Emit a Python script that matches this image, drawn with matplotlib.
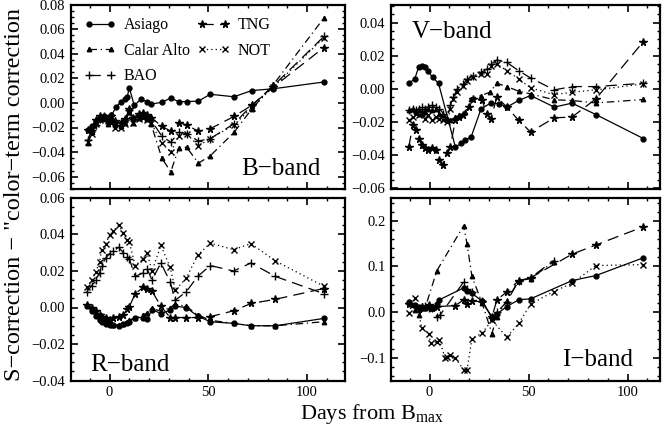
import matplotlib
matplotlib.use("Agg")
import matplotlib.pyplot as plt
from matplotlib.ticker import MultipleLocator, AutoMinorLocator, FuncFormatter

plt.rcParams['font.family'] = ['Liberation Serif', 'DejaVu Serif']
plt.rcParams['mathtext.fontset'] = 'custom'
plt.rcParams['mathtext.rm'] = 'Liberation Serif'

# ---------------- B band ----------------
b_asiago_day = [-11, -9, -7, -5, -3, -1, 1, 3.5, 6, 8, 9, 10, 12.5, 16, 19, 21, 26.5, 31, 35, 39, 45, 51, 63, 72, 83, 108.5]
b_asiago = [-0.022, -0.019, -0.015, -0.012, -0.011, -0.012, -0.010, -0.003, 0.001, 0.003, 0.005, 0.0125, -0.002,
            0.003, 0.001, -0.001, 0.0005, 0.004, 0.001, 0.001, 0.0015, 0.007, 0.005, 0.010, 0.0115, 0.017]
b_day = [-11, -9, -7, -5, -3, -1, 1, 3, 6, 8, 10, 12, 15, 17, 19, 21, 26.5, 31, 35, 39, 45, 51, 63, 72, 83, 108.5]
b_calar = [-0.033, -0.024, -0.016, -0.012, -0.013, -0.017, -0.015, -0.018, -0.019, -0.016, -0.007, -0.016, -0.012,
           -0.011, -0.013, -0.017, -0.045, -0.056, -0.037, -0.036, -0.049, -0.043, -0.024, -0.005, 0.015, 0.069]
b_bao = [-0.030, -0.022, -0.018, -0.013, -0.011, -0.014, -0.013, -0.016, -0.018, -0.014, -0.006, -0.013, -0.010,
         -0.009, -0.011, -0.014, -0.027, -0.032, -0.024, -0.025, -0.031, -0.029, -0.017, -0.002, 0.014, 0.054]
b_tng = [-0.022, -0.020, -0.014, -0.011, -0.012, -0.013, -0.011, -0.015, -0.016, -0.013, -0.005, -0.012, -0.009,
         -0.008, -0.010, -0.012, -0.019, -0.023, -0.016, -0.018, -0.023, -0.021, -0.011, -0.002, 0.013, 0.045]
b_not = [-0.032, -0.025, -0.017, -0.014, -0.013, -0.015, -0.016, -0.020, -0.020, -0.017, -0.008, -0.016, -0.013,
         -0.012, -0.014, -0.016, -0.033, -0.040, -0.027, -0.025, -0.035, -0.029, -0.018, -0.004, 0.013, 0.053]

# ---------------- V band ----------------
v_asiago_day = [-10.5, -7.5, -5.5, -4, -2.5, -1, 1.5, 4.5, 13, 16, 18, 21, 26, 31, 35, 39, 45, 51, 63, 72, 84, 108]
v_asiago = [0.0034, 0.006, 0.0134, 0.014, 0.013, 0.011, 0.007, 0.0034, -0.035, -0.033, -0.031, -0.029, -0.012,
            -0.0085, -0.009, -0.011, -0.007, -0.004, -0.011, -0.0086, -0.0155, -0.030]
v_calar_day = [-10.5, -8.5, -7, -5.5, -4, -2.5, -1, 1, 3, 5, 7, 9, 10.5, 13, 15, 18, 21, 26, 30.5, 34, 39, 45, 51,
               63, 72, 84, 108]
v_calar = [-0.013, -0.012, -0.014, -0.013, -0.015, -0.014, -0.012, -0.013, -0.012, -0.015, -0.016, -0.018, -0.019,
           -0.017, -0.016, -0.014, -0.006, -0.004, -0.002, 0.0034, 0.0014, -0.0014, -0.003, -0.0066, -0.007,
           -0.0085, -0.0064]
v_day = [-10.5, -8.5, -7, -5.5, -4, -2.5, -1, 1, 3, 5, 7, 9, 10.5, 12, 14, 17, 19, 22, 26, 29, 31, 34, 39, 45, 51,
         63, 72, 84, 108]
v_bao = [-0.013, -0.012, -0.013, -0.012, -0.011, -0.012, -0.011, -0.010, -0.011, -0.012, -0.015, -0.018, -0.010,
         -0.005, 0.000, 0.003, 0.006, 0.008, 0.010, 0.012, 0.015, 0.0174, 0.016, 0.011, 0.0066, -0.0006, 0.0014,
         0.0014, 0.0034]
v_not = [-0.019, -0.017, -0.015, -0.016, -0.014, -0.018, -0.016, -0.019, -0.017, -0.018, -0.019, -0.020, -0.012,
         -0.006, -0.002, 0.002, 0.005, 0.007, 0.009, 0.009, 0.014, 0.015, 0.011, 0.006, 0.0006, -0.0035, -0.002,
         -0.0006, 0.003]
v_tng_day = [-10.5, -8.5, -7, -5.5, -4, -2.5, -1, 1, 3, 5, 7, 9, 10.5, 13, 15, 17, 20, 22, 26.5, 29, 31, 34, 39,
             45, 51, 63, 72, 84, 108]
v_tng = [-0.035, -0.022, -0.025, -0.030, -0.034, -0.036, -0.037, -0.036, -0.037, -0.043, -0.046, -0.039, -0.035,
         -0.019, -0.017, -0.016, -0.011, -0.006, -0.007, -0.015, -0.018, -0.005, -0.011, -0.019, -0.026, -0.0175,
         -0.017, -0.006, 0.0286]

# ---------------- R band ----------------
r_day = [-11.5, -9, -7, -5, -4, -2, 0, 2, 4.6, 7, 9, 10, 13, 17, 19, 21.5, 26, 30.7, 33.3, 38.8, 44.6, 51, 62.8,
         71.6, 84, 108.4]
r_asiago = [0.0007, -0.002, -0.0047, -0.007, -0.0078, -0.009, -0.0095, -0.0096, -0.010, -0.009, -0.0085, -0.0078,
            -0.0055, -0.0055, -0.0065, -0.0011, -0.0033, -0.0015, 0.0007, 0.0, -0.0047, -0.0078, -0.0087, -0.010,
            -0.010, -0.006]
r_calar = [0.0013, -0.001, -0.004, -0.006, -0.007, -0.008, -0.009, -0.0095, -0.0098, -0.009, -0.008, -0.007,
           -0.0055, -0.004, -0.003, -0.0005, -0.002, 0.0, 0.0018, 0.0007, -0.004, -0.007, -0.0087, -0.010, -0.010,
           -0.0078]
r_bao = [0.0086, 0.012, 0.015, 0.019, 0.023, 0.027, 0.0295, 0.031, 0.033, 0.030, 0.0275, 0.0267, 0.017, 0.019,
         0.0213, 0.015, 0.0244, 0.014, 0.004, 0.0086, 0.017, 0.023, 0.020, 0.0244, 0.017, 0.0076]
r_tng = [0.0013, 0.0, -0.002, -0.004, -0.005, -0.006, -0.007, -0.006, -0.005, -0.004, -0.001, 0.0004, 0.0076,
         0.011, 0.0104, 0.009, 0.0007, -0.0055, -0.0055, -0.0055, -0.0055, -0.005, -0.0018, 0.0022, 0.0045, 0.0104]
r_not = [0.011, 0.015, 0.0195, 0.025, 0.0317, 0.035, 0.0395, 0.042, 0.045, 0.041, 0.037, 0.036, 0.023, 0.0267,
         0.030, 0.020, 0.034, 0.022, 0.0095, 0.016, 0.0286, 0.0353, 0.0317, 0.035, 0.0255, 0.0117]

# ---------------- I band ----------------
i_asiago_day = [-10.6, -7.2, -5.6, -3.9, -2.2, -0.5, 1.2, 3.7, 5, 17.2, 18.9, 21.4, 26.5, 31.5, 34, 39, 45, 51,
                72, 84, 108]
i_asiago = [0.023, 0.015, 0.011, 0.008, 0.010, 0.011, 0.0095, 0.017, 0.027, 0.053, 0.047, 0.041, 0.024, -0.011,
            -0.004, 0.012, 0.027, 0.029, 0.069, 0.080, 0.119]
i_calar_day = [-10.6, -7.2, -5.6, -2.2, 3.7, 17.2, 18.9, 21.4, 26.5, 31.5, 34, 39, 45, 51, 62.6]
i_calar = [0.02, 0.005, -0.007, 0.01, 0.091, 0.189, 0.149, 0.078, 0.02, -0.047, -0.01, 0.025, 0.069, 0.073, 0.11]
i_bao_day = [-10.6, -7.2, -5.6, -3.9, -2.2, -0.5, 1.2, 3.7, 5.4, 17.2, 18.9, 21.4, 26.5, 31.5, 34, 39, 45, 51, 62.6]
i_bao = [0.02, 0.012, 0.006, 0.012, 0.014, 0.01, 0.008, -0.011, -0.006, 0.066, 0.05, 0.045, 0.025, -0.012, 0.0,
         0.022, 0.069, 0.075, 0.113]
i_tng_day = [-10.6, -5.6, -3.9, -0.5, 1.2, 3.7, 13, 17.2, 18.9, 21.4, 26.5, 31.5, 34, 39, 45, 51, 72, 84, 108]
i_tng = [0.018, 0.006, 0.012, 0.015, 0.01, 0.012, 0.014, 0.027, 0.018, 0.025, 0.022, -0.011, 0.027, 0.044, 0.069,
         0.075, 0.127, 0.147, 0.187]
i_not_day = [-10.6, -7.2, -3.9, -0.5, 0.5, 3.7, 5, 7.8, 9, 10.4, 13, 17.2, 18.9, 21.4, 26.5, 31.5, 39, 45, 51, 62.6,
             72, 84, 108]
i_not = [-0.002, 0.031, -0.035, -0.047, -0.068, -0.065, -0.062, -0.10, -0.098, -0.095, -0.10, -0.127, -0.127,
         -0.058, -0.046, -0.018, -0.055, -0.025, 0.017, 0.045, 0.063, 0.102, 0.104]

names = ['Asiago', 'Calar Alto', 'BAO', 'TNG', 'NOT']
styles = [dict(ls='-', marker='o', ms=3.5),
          dict(ls=(0, (6, 3, 1, 3)), marker='^', ms=3.2),
          dict(ls=(0, (9, 5)), marker='+', ms=6, mew=1.0),
          dict(ls=(0, (9, 5)), marker='*', ms=5.5),
          dict(ls=(0, (1, 2.5)), marker='x', ms=4.5, mew=1.0)]

fig = plt.figure(figsize=(6.64, 4.32), dpi=100)
W, H = 664.0, 432.0
ax_b = fig.add_axes([71 / W, (H - 189) / H, 274 / W, 184.5 / H])
ax_v = fig.add_axes([391 / W, (H - 189) / H, 269 / W, 184.5 / H])
ax_r = fig.add_axes([71 / W, (H - 380.5) / H, 274 / W, 182.5 / H])
ax_i = fig.add_axes([391 / W, (H - 380.5) / H, 269 / W, 182.5 / H])


def fmt(nd):
    def f(v, pos):
        s = f"{v:.{nd}f}"
        if s.startswith('-') and float(s) == 0:
            s = s[1:]
        return s.replace('-', '\u2212')
    return FuncFormatter(f)


panels = [
    (ax_b, [(b_asiago_day, b_asiago), (b_day, b_calar), (b_day, b_bao), (b_day, b_tng), (b_day, b_not)],
     (-0.07, 0.08), 0.02, 2, (-19.5, 119.2)),
    (ax_v, [(v_asiago_day, v_asiago), (v_calar_day, v_calar), (v_day, v_bao), (v_tng_day, v_tng), (v_day, v_not)],
     (-0.0605, 0.051), 0.02, 2, (-19.5, 116.4)),
    (ax_r, [(r_day, r_asiago), (r_day, r_calar), (r_day, r_bao), (r_day, r_tng), (r_day, r_not)],
     (-0.04, 0.06), 0.02, 2, (-19.5, 119.2)),
    (ax_i, [(i_asiago_day, i_asiago), (i_calar_day, i_calar), (i_bao_day, i_bao), (i_tng_day, i_tng),
            (i_not_day, i_not)],
     (-0.15, 0.25), 0.1, 1, (-19.5, 116.4)),
]

for ax, series, ylim, ystep, nd, xlim in panels:
    for (d, v), name, st in zip(series, names, styles):
        ax.plot(d, v, color='black', lw=0.9, label=name, **st)
    ax.set_xlim(*xlim)
    ax.set_ylim(*ylim)
    ax.xaxis.set_major_locator(MultipleLocator(50))
    ax.xaxis.set_minor_locator(MultipleLocator(10))
    ax.yaxis.set_major_locator(MultipleLocator(ystep))
    ax.yaxis.set_minor_locator(AutoMinorLocator(5 if nd == 1 else 4))
    ax.yaxis.set_major_formatter(fmt(nd))
    ax.tick_params(which='both', direction='in', top=True, right=True, labelsize=10.5, pad=4)
    ax.tick_params(which='major', length=5, width=1.2)
    ax.tick_params(which='minor', length=2.5, width=1.0)
    for sp in ax.spines.values():
        sp.set_linewidth(1.6)

ax_b.set_xticklabels([])
ax_v.set_xticklabels([])

ax_b.text(0.91, 0.11, 'B\u2212band', transform=ax_b.transAxes, ha='right', va='center', fontsize=18)
ax_v.text(0.077, 0.85, 'V\u2212band', transform=ax_v.transAxes, ha='left', va='center', fontsize=18)
ax_r.text(0.069, 0.085, 'R\u2212band', transform=ax_r.transAxes, ha='left', va='center', fontsize=18)
ax_i.text(0.90, 0.11, 'I\u2212band', transform=ax_i.transAxes, ha='right', va='center', fontsize=18)

ax_b.legend(loc='upper left', ncol=2, frameon=False, numpoints=2, fontsize=11.5, handlelength=2.0,
            handletextpad=0.5, columnspacing=0.5, labelspacing=0.6, borderaxespad=0.5, borderpad=0.3)

fig.text(372 / W, 1 - 414 / H, 'Days from B$_{\\rm max}$', ha='center', va='center', fontsize=16)
fig.text(15 / W, 1 - 381 / H, 'S\u2212correction \u2212 "color\u2212term correction', rotation=90,
         ha='center', va='bottom', fontsize=17.5)

fig.savefig('out.png', dpi=100)
